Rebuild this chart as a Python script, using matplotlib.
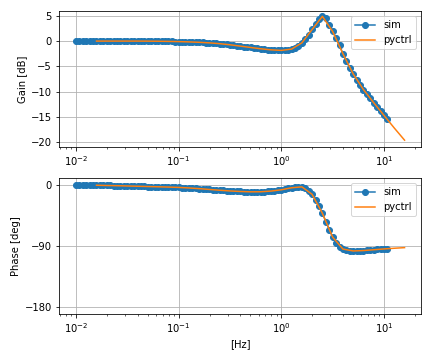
import matplotlib
matplotlib.use("Agg")
import matplotlib.pyplot as plt

# ---- data ----
sim_freq = [
    0.01, 0.0108, 0.01166, 0.01259, 0.01359, 0.01468, 0.01585, 0.01711, 0.01848, 0.01995,
    0.02154, 0.02326, 0.02512, 0.02712, 0.02929, 0.03162, 0.03415, 0.03687, 0.03981, 0.04299,
    0.04642, 0.05012, 0.05412, 0.05843, 0.0631, 0.06813, 0.07356, 0.07943, 0.08577, 0.09261,
    0.1, 0.108, 0.1166, 0.1259, 0.1359, 0.1468, 0.1585, 0.1711, 0.1848, 0.1995,
    0.2154, 0.2326, 0.2512, 0.2712, 0.2929, 0.3162, 0.3415, 0.3687, 0.3981, 0.4299,
    0.4642, 0.5012, 0.5412, 0.5843, 0.631, 0.6813, 0.7356, 0.7943, 0.8577, 0.9261,
    1.0, 1.08, 1.166, 1.259, 1.359, 1.468, 1.585, 1.711, 1.848, 1.995,
    2.154, 2.326, 2.512, 2.712, 2.929, 3.162, 3.415, 3.687, 3.981, 4.299,
    4.642, 5.012, 5.412, 5.843, 6.31, 6.813, 7.356, 7.943, 8.577, 9.261,
    10.0, 10.8,
]
sim_gain = [
    0, 0, 0, 0, 0, 0, 0, 0, 0, 0,
    0, 0, 0, 0, 0, 0, 0, 0, 0, 0,
    0, 0, -0.01, -0.02, -0.03, -0.04, -0.05, -0.06, -0.08, -0.09,
    -0.10, -0.12, -0.14, -0.16, -0.18, -0.21, -0.24, -0.27, -0.31, -0.35,
    -0.40, -0.45, -0.51, -0.58, -0.65, -0.73, -0.81, -0.90, -0.99, -1.08,
    -1.17, -1.26, -1.35, -1.44, -1.52, -1.60, -1.67, -1.73, -1.78, -1.82,
    -1.84, -1.82, -1.73, -1.58, -1.35, -0.95, -0.35, 0.40, 1.30, 2.30,
    3.40, 4.30, 4.90, 4.50, 3.20, 1.90, 0.60, -0.80, -2.50, -4.00,
    -5.30, -6.50, -7.60, -8.60, -9.60, -10.40, -11.30, -12.20, -13.00, -13.90,
    -14.70, -15.50,
]
sim_phase = [
    0.0, -0.1, -0.2, -0.3, -0.4, -0.5, -0.6, -0.7, -0.8, -0.9,
    -1.0, -1.1, -1.2, -1.3, -1.45, -1.6, -1.75, -1.9, -2.05, -2.2,
    -2.35, -2.5, -2.65, -2.8, -2.9, -3.05, -3.2, -3.3, -3.5, -3.65,
    -3.8, -4.05, -4.3, -4.6, -4.9, -5.25, -5.6, -6.0, -6.4, -6.8,
    -7.2, -7.6, -8.0, -8.35, -8.7, -9.0, -9.3, -9.55, -9.8, -10.0,
    -10.15, -10.3, -10.3, -10.3, -10.2, -9.9, -9.6, -9.2, -8.6, -8.0,
    -7.3, -6.3, -5.3, -4.3, -3.2, -2.6, -3.0, -4.8, -8.8, -14.0,
    -22.0, -31.0, -42.0, -54.0, -66.0, -77.0, -85.0, -91.0, -94.5, -96.2,
    -97.0, -97.3, -97.3, -97.0, -96.7, -96.3, -95.9, -95.5, -95.1, -94.7,
    -94.3, -93.9,
]

pyctrl_freq = [
    0.01585, 0.01995, 0.02512, 0.03162, 0.03981, 0.05012, 0.0631, 0.07943,
    0.1, 0.1259, 0.1585, 0.1995, 0.2512, 0.3162, 0.3981, 0.5012, 0.631, 0.7943,
    1.0, 1.259, 1.585, 1.995, 2.512, 3.162, 3.981, 5.012, 6.31, 7.943,
    10.0, 12.59, 15.85,
]
pyctrl_gain = [
    0, 0, 0, 0, 0, -0.01, -0.03, -0.06,
    -0.10, -0.16, -0.24, -0.35, -0.51, -0.73, -0.99, -1.26, -1.52, -1.73,
    -1.84, -1.58, -0.35, 2.3, 4.9, 1.9, -2.5, -6.5, -9.6, -12.2,
    -14.7, -17.2, -19.6,
]
pyctrl_phase = [
    -0.6, -1.0, -1.3, -1.7, -2.1, -2.5, -2.9, -3.3,
    -3.8, -4.6, -5.6, -6.8, -8.0, -9.0, -9.8, -10.3, -10.2, -9.2,
    -7.3, -4.3, -3.0, -14.0, -42.0, -77.0, -94.5, -97.3, -96.7, -95.5,
    -94.3, -93.3, -92.4,
]
phase_ticks = [-180, -90, 0]

# ---- figure ----
fig = plt.figure(figsize=(6, 5), dpi=72)
ax1 = fig.add_axes([0.1366, 0.5917, 0.8379, 0.3777])
ax2 = fig.add_axes([0.1366, 0.1278, 0.8379, 0.3777])

ax1.semilogx(sim_freq, sim_gain, "o-", color="C0", label="sim")
ax1.semilogx(pyctrl_freq, pyctrl_gain, "-", color="C1", label="pyctrl")
ax1.set_ylabel("Gain [dB]")
ax1.set_ylim(-20.95, 5.95)
ax1.grid(True)
ax1.legend(loc="upper right")

ax2.semilogx(sim_freq, sim_phase, "o-", color="C0", label="sim")
ax2.semilogx(pyctrl_freq, pyctrl_phase, "-", color="C1", label="pyctrl")
ax2.set_ylabel("Phase [deg]")
ax2.set_xlabel("[Hz]")
ax2.set_yticks(phase_ticks)
ax2.set_ylim(-190, 10)
ax2.grid(True)
ax2.legend(loc="upper right")

for ax in (ax1, ax2):
    ax.set_xlim(10 ** -2.165, 10 ** 1.36)

fig.savefig("out.png", dpi=72)
